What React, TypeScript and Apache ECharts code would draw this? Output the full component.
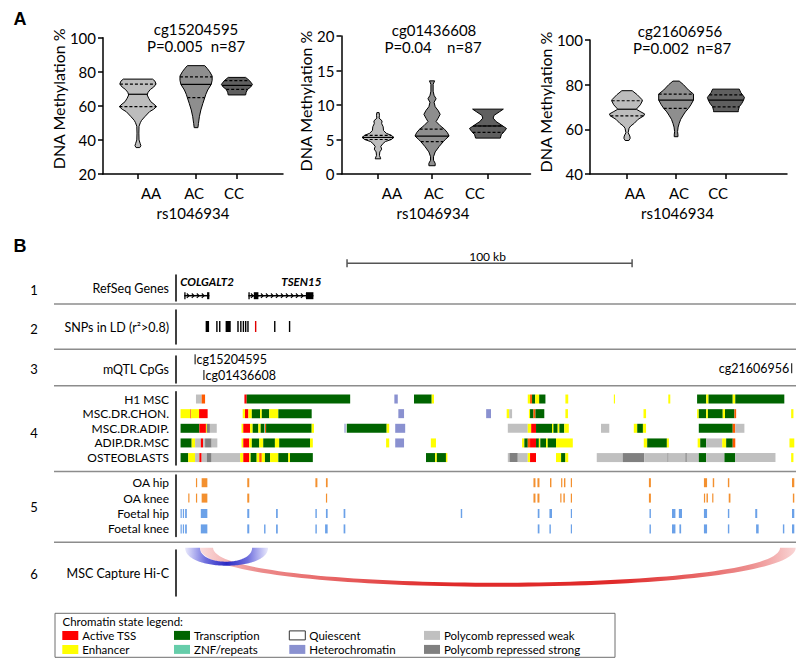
import React, { useEffect, useRef } from 'react';
import * as echarts from 'echarts';

// ================= Panel A data =================
const genotypes = ['AA', 'AC', 'CC'];
const cpgNames = ['cg15204595', 'cg01436608', 'cg21606956'];
const statLines = ['P=0.005  n=87', 'P=0.04    n=87', 'P=0.002  n=87'];
const snpId = 'rs1046934';
const yAxisName = 'DNA Methylation %';

// violin outlines: [methylation %, relative density], top to bottom
const cg152AA: number[][] = [[75.7, 0.79], [74.5, 0.92], [72.8, 0.98], [71, 0.85], [69.7, 0.68], [68, 0.55], [66.4, 0.5], [64.5, 0.58], [62.4, 0.7], [60.5, 0.92], [59.5, 1.0], [58, 0.85], [56.6, 0.63], [53.6, 0.37], [51.5, 0.2], [50.1, 0.13], [48, 0.06], [44, 0.05], [40, 0.06], [38, 0.12], [36.6, 0.16], [35.5, 0.1]];
const cg152AC: number[][] = [[83.6, 0.47], [82, 0.6], [80, 0.74], [77.5, 0.87], [75, 0.87], [72.6, 0.82], [69.3, 0.63], [66.8, 0.53], [64.8, 0.47], [61.5, 0.37], [57.6, 0.26], [53.6, 0.18], [49.7, 0.13], [47.2, 0.1]];
const cg152CC: number[][] = [[76.7, 0.47], [74.8, 0.68], [72.6, 0.84], [71, 0.74], [69.7, 0.58], [68, 0.5], [66.4, 0.47]];
const cg152Quart: number[][] = [[59.5, 66.8, 72.7], [64.8, 72.6, 77.0], [69.7, 72.0, 74.8]];

const cg014AA: number[][] = [[8.9, 0.06], [8.5, 0.08], [8.1, 0.06], [7.7, 0.22], [7.3, 0.2], [6.85, 0.28], [6.3, 0.3], [5.9, 0.45], [5.6, 0.72], [5.3, 0.86], [5.0, 0.72], [4.7, 0.4], [4.44, 0.28], [4.0, 0.15], [3.6, 0.2], [3.2, 0.1], [2.7, 0.08], [2.2, 0.15]];
const cg014AC: number[][] = [[13.5, 0.14], [13, 0.06], [12, 0.06], [11.4, 0.11], [10.9, 0.22], [10.4, 0.11], [9.75, 0.17], [9.2, 0.33], [8.65, 0.44], [8.1, 0.33], [7.6, 0.22], [7.0, 0.44], [6.5, 0.67], [6.0, 0.83], [5.5, 0.92], [5.0, 0.72], [4.7, 0.61], [4.0, 0.39], [3.2, 0.17], [2.5, 0.08], [2.0, 0.08], [1.55, 0.17], [1.2, 0.17]];
const cg014CC: number[][] = [[9.4, 0.83], [9.0, 0.61], [8.5, 0.33], [8.1, 0.28], [7.6, 0.44], [7.0, 0.78], [6.6, 1.0], [6.2, 0.89], [5.7, 0.72], [5.2, 0.67]];
const cg014Quart: number[][] = [[5.0, 5.3, 5.6], [4.7, 5.5, 6.5], [6.04, 6.96, 6.96]];

const cg216AA: number[][] = [[77.3, 0.28], [75.5, 0.55], [73.4, 0.8], [72.8, 0.83], [71, 0.72], [69, 0.5], [67.8, 0.75], [66.9, 0.95], [66, 0.9], [64.5, 0.6], [62.7, 0.39], [61.5, 0.2], [60.5, 0.11], [58.5, 0.06], [57, 0.15], [56, 0.17], [55, 0.1]];
const cg216AC: number[][] = [[81.6, 0.17], [80, 0.4], [77.6, 0.67], [75.8, 0.94], [73.1, 0.94], [71, 0.8], [69.4, 0.67], [67.8, 0.5], [66.4, 0.39], [64.5, 0.25], [62.7, 0.17], [61, 0.11], [59, 0.08], [57.5, 0.1], [56.7, 0.1]];
const cg216CC: number[][] = [[78, 0.72], [76.5, 0.8], [74.3, 1.0], [73, 0.95], [71.5, 0.85], [70.1, 0.72], [68.5, 0.67], [67.9, 0.67]];
const cg216Quart: number[][] = [[66.0, 69.0, 72.8], [69.4, 73.1, 75.8], [70.1, 73.1, 75.4]];

const yMins = [20, 0, 40];
const yMaxs = [100, 20, 100];
const yIntervals = [20, 5, 20];

// ================= Panel B data (positions in kb) =================
const geneNames = ['COLGALT2', 'TSEN15'];
const geneSpans: number[][] = [[2.9, 11.7], [25.4, 48.2]];
const geneExons: number[][][] = [[[2.9, 3.1], [10.9, 11.7]], [[25.4, 25.7], [27.3, 28.9], [45.6, 48.2]]];

const snpBlack: number[][] = [[10.4, 11.6], [14.1, 14.5], [15.1, 15.4], [17.4, 19.2], [21.5, 22.0], [22.5, 22.8], [23.4, 23.8], [24.2, 24.6], [25.0, 25.4], [34.4, 34.7], [39.6, 40.0]];
const snpLead: number[][] = [[27.7, 28.1]];

const mqtlNames = ['cg15204595', 'cg01436608', 'cg21606956'];
const mqtlPos = [6.7, 9.8, 216.0];

const scaleBarKb = [60, 160];
const scaleBarLabel = '100 kb';

const chromRows = ['H1 MSC', 'MSC.DR.CHON.', 'MSC.DR.ADIP.', 'ADIP.DR.MSC', 'OSTEOBLASTS'];
type Seg = [number, number, string];
const h1msc: Seg[] = [[7.0, 9.0, 'W'], [9.0, 10.2, 'F'], [24.0, 24.8, 'T'], [24.8, 61.1, 'X'], [76.6, 77.8, 'H'], [83.5, 89.7, 'X'], [89.7, 90.5, 'E'], [123.4, 124.2, 'E'], [124.2, 124.9, 'F'], [124.9, 126.0, 'X'], [126.0, 127.4, 'E'], [127.4, 129.6, 'X'], [136.6, 137.6, 'E'], [153.6, 154.0, 'E'], [172.7, 173.4, 'E'], [182.8, 186.0, 'X'], [186.0, 186.8, 'E'], [186.8, 195.3, 'X'], [195.3, 196.2, 'E'], [196.2, 213.4, 'X']];
const mscChon: Seg[] = [[1.6, 5.0, 'E'], [5.0, 5.3, 'F'], [5.3, 8.1, 'E'], [8.1, 11.1, 'T'], [23.4, 24.2, 'E'], [24.2, 25.4, 'T'], [25.4, 26.6, 'E'], [26.6, 29.5, 'X'], [29.5, 30.1, 'E'], [30.1, 32.7, 'X'], [32.7, 35.9, 'E'], [35.9, 47.6, 'X'], [78.0, 80.0, 'H'], [108.8, 110.5, 'H'], [116.0, 116.9, 'E'], [116.9, 117.9, 'W'], [123.8, 124.2, 'E'], [124.2, 125.4, 'X'], [125.4, 126.1, 'F'], [126.1, 129.2, 'X'], [136.6, 137.5, 'E'], [164.0, 164.9, 'E'], [182.8, 183.4, 'E'], [183.4, 186.0, 'X'], [186.0, 186.6, 'E'], [186.6, 191.8, 'X'], [191.8, 192.6, 'E'], [192.6, 195.9, 'X'], [195.9, 196.5, 'F'], [215.8, 216.6, 'E']];
const mscAdip: Seg[] = [[1.6, 8.2, 'X'], [8.2, 10.5, 'T'], [10.5, 10.8, 'E'], [10.8, 11.9, 'S'], [11.9, 14.3, 'W'], [23.0, 23.6, 'E'], [23.6, 26.0, 'T'], [26.0, 26.9, 'E'], [26.9, 28.9, 'X'], [28.9, 29.7, 'E'], [29.7, 30.9, 'X'], [30.9, 31.2, 'Z'], [31.2, 31.6, 'F'], [31.6, 47.6, 'X'], [47.6, 48.4, 'E'], [59.1, 59.5, 'H'], [59.9, 73.9, 'X'], [73.9, 74.8, 'E'], [76.9, 80.4, 'H'], [116.4, 123.4, 'W'], [123.4, 124.6, 'E'], [124.6, 126.3, 'T'], [126.3, 131.9, 'X'], [131.9, 132.4, 'E'], [132.4, 133.9, 'X'], [133.9, 134.5, 'E'], [134.5, 136.2, 'X'], [136.2, 137.8, 'E'], [149.1, 152.0, 'W'], [160.6, 161.8, 'E'], [161.8, 163.8, 'X'], [163.8, 164.9, 'E'], [183.4, 195.3, 'X'], [195.3, 196.2, 'F'], [196.2, 199.4, 'W']];
const adipMsc: Seg[] = [[1.6, 5.5, 'X'], [5.5, 6.7, 'E'], [6.7, 8.7, 'W'], [8.7, 9.5, 'T'], [9.5, 10.2, 'W'], [10.2, 12.5, 'S'], [12.5, 14.5, 'W'], [23.0, 23.6, 'E'], [23.6, 25.7, 'T'], [25.7, 26.6, 'E'], [26.6, 29.2, 'X'], [29.2, 30.6, 'E'], [30.6, 34.7, 'X'], [34.7, 36.2, 'E'], [36.2, 47.0, 'X'], [47.0, 48.0, 'E'], [73.7, 74.8, 'E'], [76.9, 80.0, 'H'], [89.4, 91.2, 'E'], [121.4, 122.2, 'E'], [122.2, 123.4, 'X'], [123.4, 124.2, 'F'], [124.2, 126.3, 'T'], [126.3, 127.3, 'X'], [127.3, 127.8, 'E'], [127.8, 129.8, 'X'], [129.8, 130.4, 'E'], [130.4, 133.3, 'X'], [133.3, 139.2, 'E'], [164.1, 165.3, 'E'], [165.3, 172.2, 'X'], [172.2, 172.9, 'E'], [183.0, 183.9, 'E'], [183.9, 186.0, 'X'], [186.0, 191.6, 'W'], [191.6, 193.0, 'E'], [193.0, 195.3, 'X'], [195.3, 196.2, 'F'], [215.2, 216.9, 'E']];
const osteo: Seg[] = [[1.6, 4.3, 'X'], [4.3, 6.7, 'E'], [6.7, 8.2, 'W'], [8.2, 9.0, 'T'], [9.0, 10.8, 'W'], [10.8, 12.5, 'S'], [12.5, 22.5, 'W'], [22.5, 23.6, 'E'], [23.6, 25.7, 'T'], [25.7, 26.2, 'E'], [26.2, 28.3, 'X'], [28.3, 29.2, 'E'], [29.2, 30.1, 'F'], [30.1, 31.2, 'E'], [31.2, 33.0, 'X'], [33.0, 35.9, 'E'], [35.9, 39.4, 'X'], [39.4, 40.0, 'E'], [40.0, 48.0, 'X'], [87.7, 90.9, 'X'], [90.9, 91.5, 'E'], [91.5, 94.7, 'X'], [94.7, 95.2, 'E'], [116.4, 117.0, 'W'], [117.0, 119.9, 'S'], [119.9, 123.4, 'W'], [123.4, 124.2, 'E'], [124.2, 126.3, 'T'], [133.3, 135.1, 'E'], [135.1, 136.6, 'X'], [136.6, 137.6, 'E'], [147.6, 156.7, 'W'], [156.7, 164.3, 'S'], [164.3, 172.4, 'W'], [172.4, 172.8, 'S'], [172.8, 178.7, 'W'], [178.7, 179.2, 'S'], [179.2, 183.4, 'W'], [183.4, 186.0, 'X'], [186.0, 192.4, 'W'], [192.4, 196.2, 'X'], [196.2, 210.3, 'W'], [215.8, 216.6, 'E']];
const chromSegsByRow: Seg[][] = [h1msc, mscChon, mscAdip, adipMsc, osteo];

const atacRows = ['OA hip', 'OA knee', 'Foetal hip', 'Foetal knee'];
const oaHip: number[][] = [[7.0, 7.3], [9.0, 11.0], [25.0, 25.7], [48.9, 49.6], [52.6, 53.2], [125.4, 126.1], [126.8, 127.5], [131.2, 131.7], [135.1, 135.4], [136.1, 136.6], [138.5, 138.9], [165.9, 166.6], [185.2, 186.3], [188.3, 188.8], [193.6, 194.1], [216.1, 216.9]];
const oaKnee: number[][] = [[4.3, 4.6], [7.0, 7.3], [9.0, 11.0], [25.0, 25.7], [52.6, 52.9], [125.4, 126.1], [126.8, 127.5], [134.8, 135.2], [135.9, 136.4], [138.5, 138.9], [165.9, 166.6], [185.2, 185.6], [186.1, 186.6], [188.1, 188.5], [193.9, 194.5], [216.4, 216.9]];
const foetalHip: number[][] = [[1.6, 1.9], [2.4, 2.6], [3.2, 3.8], [8.7, 11.0], [25.0, 25.7], [35.1, 35.7], [48.9, 49.4], [52.6, 53.2], [58.8, 59.4], [99.9, 100.4], [126.9, 127.5], [131.0, 131.9], [138.5, 138.9], [166.1, 166.6], [174.0, 175.2], [176.4, 177.5], [185.2, 186.3], [193.6, 194.1], [203.2, 203.9], [216.1, 216.9]];
const foetalKnee: number[][] = [[1.6, 1.9], [2.4, 2.6], [3.2, 3.8], [8.7, 11.0], [25.0, 25.7], [30.9, 31.4], [35.1, 35.7], [48.9, 49.4], [52.3, 53.2], [58.8, 59.4], [126.9, 127.5], [131.0, 131.5], [138.5, 138.9], [166.1, 166.6], [174.0, 175.2], [176.6, 177.2], [185.2, 186.3], [193.6, 194.1], [203.5, 204.4], [212.9, 213.4], [216.1, 216.9]];
const atacPeaksByRow: number[][][] = [oaHip, oaKnee, foetalHip, foetalKnee];

const hicRow = ['MSC Capture Hi-C'];
// [anchor1 start, anchor1 end, anchor2 start, anchor2 end]
const hicRed: number[] = [8.4, 13.0, 211.9, 217.4];
const hicBlue: number[] = [3.2, 8.4, 26.7, 32.3];

const legendTitle = 'Chromatin state legend:';
const legendNames = ['Active TSS', 'Enhancer', 'Transcription', 'ZNF/repeats', 'Quiescent', 'Heterochromatin', 'Polycomb repressed weak', 'Polycomb repressed strong'];
const legendCodes = ['T', 'E', 'X', 'Z', 'Q', 'H', 'W', 'S'];

const trackNumbers = ['1', '2', '3', '4', '5', '6'];

// ================= styles / layout =================
const FONT = 'Lato, "Open Sans", sans-serif';
const stateColors: Record<string, string> = {
  T: '#ff0000', F: '#ff5a00', E: '#ffff00', X: '#006400', Z: '#66cdaa',
  Q: '#ffffff', H: '#8a91d0', W: '#c0c0c0', S: '#808080',
};
const violinFills = ['#bdbdbd', '#8e8e8e', '#5f5f5f'];
const KB_MAX = 217.5;

const plotLayout = [
  { grid: { left: 103, top: 37.7, width: 180, height: 136.3 }, violinX: [19.4, 51.7, 74.4], labelX: [26.7, 50.6, 72.8], titleX: [196, 196], titleY: [29, 46], nameGap: 32, namePadL: 14, xNamePad: [0, 0, 0, 0] },
  { grid: { left: 341.5, top: 36, width: 189, height: 138 }, violinX: [19.3, 47.9, 77.5], labelX: [26.7, 48.9, 70.6], titleX: [434, 433], titleY: [30, 47], nameGap: 21.5, namePadL: 8, xNamePad: [0, 6, 0, 0] },
  { grid: { left: 590, top: 40, width: 197, height: 134 }, violinX: [18.8, 43.7, 69.0], labelX: [22.8, 45.2, 65.0], titleX: [680, 682], titleY: [31, 48], nameGap: 30, namePadL: 10, xNamePad: [0, 22, 0, 0] },
];
const violinProfiles = [[cg152AA, cg152AC, cg152CC], [cg014AA, cg014AC, cg014CC], [cg216AA, cg216AC, cg216CC]];
const violinQuarts = [cg152Quart, cg014Quart, cg216Quart];

function interpDens(prof: number[][], v: number): number {
  for (let k = 0; k < prof.length - 1; k++) {
    const a = prof[k], b = prof[k + 1];
    if (v <= a[0] && v >= b[0]) {
      const t = a[0] === b[0] ? 0 : (a[0] - v) / (a[0] - b[0]);
      return a[1] + t * (b[1] - a[1]);
    }
  }
  return 0;
}

function makeViolinRender(p: number) {
  const maxHalf = 18.5;
  return (params: any, api: any) => {
    const i = params.dataIndex;
    const xPos = api.value(0);
    const prof = violinProfiles[p][i];
    const right = prof.map(([v, d]) => { const c = api.coord([xPos, v]); return [c[0] + d * maxHalf, c[1]]; });
    const left = prof.slice().reverse().map(([v, d]) => { const c = api.coord([xPos, v]); return [c[0] - d * maxHalf, c[1]]; });
    const children: any[] = [{
      type: 'polygon', shape: { points: right.concat(left) },
      style: { fill: violinFills[i], stroke: '#000', lineWidth: 1 },
    }];
    violinQuarts[p][i].forEach((q, k) => {
      const d = interpDens(prof, q) * maxHalf;
      const c = api.coord([xPos, q]);
      const st: any = { stroke: '#000', lineWidth: 1.2 };
      if (k !== 1) st.lineDash = [3, 2];
      children.push({ type: 'line', shape: { x1: c[0] - d, y1: c[1], x2: c[0] + d, y2: c[1] }, style: st });
    });
    return { type: 'group', children };
  };
}

const trackGrids = [
  { left: 176, top: 275, width: 620, height: 26 },    // genes
  { left: 176, top: 310, width: 620, height: 34 },    // SNPs
  { left: 176, top: 356, width: 620, height: 27 },    // mQTL
  { left: 176, top: 391.7, width: 620, height: 73.2 }, // chromatin
  { left: 176, top: 475, width: 620, height: 61.6 },  // ATAC
  { left: 176, top: 550, width: 620, height: 46 },    // Hi-C
];
const trackLabels = [['RefSeq Genes'], ['SNPs in LD (r²>0.8)'], ['mQTL CpGs'], chromRows, atacRows, hicRow];
const trackLabelPad = [[10, 0, 0, 0], [4, 0, 0, 0], [0, 0, 0, 0], [0, 0, 0, 0], [0, 0, 0, 0], [0, 0, 26, 0]];
const trackLabelSize = [12.5, 12.5, 12.5, 12, 12, 12.5];

function txt(x: number, y: number, text: string, font: string, align = 'center', lineHeight?: number) {
  const style: any = { text, x: 0, y: 0, font, fill: '#000', align, textAlign: align, verticalAlign: 'middle', textVerticalAlign: 'middle' };
  if (lineHeight) style.lineHeight = lineHeight;
  return { type: 'text', x, y, silent: true, style };
}

export default function App() {
  const ref = useRef<HTMLDivElement>(null);
  useEffect(() => {
    if (!ref.current) return;
    const chart = echarts.init(ref.current, null, { renderer: 'svg' });

    const grid: any[] = [];
    const xAxis: any[] = [];
    const yAxis: any[] = [];
    const series: any[] = [];
    const axisLineStyle = { color: '#000', width: 1.5 };

    plotLayout.forEach((pl, p) => {
      grid.push(pl.grid);
      xAxis.push({
        type: 'value', gridIndex: p, min: 0, max: 100,
        axisLine: { show: true, lineStyle: axisLineStyle, onZero: false },
        axisTick: { show: true, length: 5, lineStyle: axisLineStyle, customValues: pl.violinX },
        axisLabel: {
          customValues: pl.labelX, color: '#000', fontSize: 15, fontFamily: FONT, margin: 11,
          formatter: (v: number) => { const k = pl.labelX.findIndex((x) => Math.abs(x - v) < 0.01); return k >= 0 ? genotypes[k] : ''; },
        },
        splitLine: { show: false },
        name: snpId, nameLocation: 'middle', nameGap: 31,
        nameTextStyle: { color: '#000', fontSize: 15, fontFamily: FONT, padding: pl.xNamePad },
      });
      yAxis.push({
        type: 'value', gridIndex: p, min: yMins[p], max: yMaxs[p], interval: yIntervals[p],
        axisLine: { show: true, lineStyle: axisLineStyle, onZero: false },
        axisTick: { show: true, length: 5, lineStyle: axisLineStyle },
        axisLabel: { color: '#000', fontSize: 15, fontFamily: FONT, margin: 7 },
        splitLine: { show: false },
        name: yAxisName, nameLocation: 'middle', nameGap: pl.nameGap, nameRotate: 90,
        nameTextStyle: { color: '#000', fontSize: 16, fontFamily: FONT, padding: [0, 0, 0, pl.namePadL] },
      });
      series.push({
        type: 'custom', xAxisIndex: p, yAxisIndex: p, silent: true,
        encode: { x: 0, y: 1 },
        data: pl.violinX.map((x, i) => [x, violinQuarts[p][i][1]]),
        renderItem: makeViolinRender(p),
      });
    });

    trackGrids.forEach((g, t) => {
      const gi = 3 + t;
      grid.push(g);
      xAxis.push({ type: 'value', gridIndex: gi, min: 0, max: KB_MAX, show: false });
      yAxis.push({
        type: 'category', gridIndex: gi, data: trackLabels[t], inverse: true,
        axisLine: { show: true, lineStyle: axisLineStyle },
        axisTick: { show: false },
        axisLabel: { interval: 0, color: '#000', fontSize: trackLabelSize[t], lineHeight: 13, fontFamily: FONT, margin: 7, padding: trackLabelPad[t] },
        splitLine: { show: false },
      });
    });

    // scale bar
    series.push({
      type: 'custom', xAxisIndex: 3, yAxisIndex: 3, silent: true, encode: { x: [0, 1], y: 2 },
      data: [[scaleBarKb[0], scaleBarKb[1], 0]],
      renderItem: (params: any, api: any) => {
        const a = api.coord([api.value(0), 0])[0];
        const b = api.coord([api.value(1), 0])[0];
        const y = params.coordSys.y - 11.7;
        const st = { stroke: '#555', lineWidth: 1.5 };
        return {
          type: 'group', children: [
            { type: 'line', shape: { x1: a, y1: y, x2: b, y2: y }, style: st },
            { type: 'line', shape: { x1: a, y1: y - 4, x2: a, y2: y + 4 }, style: st },
            { type: 'line', shape: { x1: b, y1: y - 4, x2: b, y2: y + 4 }, style: st },
            { type: 'text', x: (a + b) / 2 - 2, y: y - 7, style: { text: scaleBarLabel, font: `12px ${FONT}`, fill: '#000', align: 'center', verticalAlign: 'middle' } },
          ],
        };
      },
    });

    // genes
    series.push({
      type: 'custom', xAxisIndex: 3, yAxisIndex: 3, silent: true, encode: { x: [0, 1], y: 2 },
      data: geneSpans.map((s) => [s[0], s[1], 0]),
      renderItem: (params: any, api: any) => {
        const i = params.dataIndex;
        const sx = api.coord([api.value(0), 0])[0];
        const ex = api.coord([api.value(1), 0])[0];
        const y = params.coordSys.y + 20.7;
        const children: any[] = [
          { type: 'line', shape: { x1: sx, y1: y, x2: ex, y2: y }, style: { stroke: '#000', lineWidth: 1.5 } },
        ];
        for (let x = sx + 4; x < ex - 3; x += 5) {
          children.push({ type: 'polyline', shape: { points: [[x - 1.5, y - 2.2], [x + 0.8, y], [x - 1.5, y + 2.2]] }, style: { stroke: '#000', lineWidth: 1.1, fill: null } });
        }
        geneExons[i].forEach((e) => {
          const a = api.coord([e[0], 0])[0];
          const b = api.coord([e[1], 0])[0];
          children.push({ type: 'rect', shape: { x: a, y: y - 3.5, width: Math.max(b - a, 1.3), height: 7 }, style: { fill: '#000' } });
        });
        const leftAnchor = i === 0;
        children.push({
          type: 'text', x: leftAnchor ? sx - 4 : ex + 8, y: params.coordSys.y + 6.7,
          style: { text: geneNames[i], font: `italic bold 11.5px ${FONT}`, fill: '#000', align: leftAnchor ? 'left' : 'right', verticalAlign: 'middle' },
        });
        return { type: 'group', children };
      },
    });

    // SNPs in LD
    const snpAll = snpBlack.map((s) => ({ s, c: '#000' })).concat(snpLead.map((s) => ({ s, c: '#e00000' })));
    series.push({
      type: 'custom', xAxisIndex: 4, yAxisIndex: 4, silent: true, encode: { x: [0, 1], y: 2 },
      data: snpAll.map((d) => [d.s[0], d.s[1], 0]),
      renderItem: (params: any, api: any) => {
        const a = api.coord([api.value(0), 0]);
        const b = api.coord([api.value(1), 0]);
        return { type: 'rect', shape: { x: a[0], y: a[1] - 6, width: Math.max(b[0] - a[0], 1.4), height: 11 }, style: { fill: snpAll[params.dataIndex].c } };
      },
    });

    // mQTL CpGs
    const mqtlLane = [0, 1, 0.57];
    series.push({
      type: 'custom', xAxisIndex: 5, yAxisIndex: 5, silent: true, encode: { x: 0, y: 1 },
      data: mqtlPos.map((p) => [p, 0]),
      renderItem: (params: any, api: any) => {
        const i = params.dataIndex;
        const x = api.coord([api.value(0), 0])[0];
        const y = params.coordSys.y + 3.3 + mqtlLane[i] * 15.7;
        const rightSide = x < params.coordSys.x + params.coordSys.width / 2;
        return {
          type: 'group', children: [
            { type: 'line', shape: { x1: x, y1: y - 5, x2: x, y2: y + 5 }, style: { stroke: '#000', lineWidth: 1 } },
            { type: 'text', x: rightSide ? x + 1.5 : x - 2.5, y, style: { text: mqtlNames[i], font: `12.5px ${FONT}`, fill: '#000', align: rightSide ? 'left' : 'right', verticalAlign: 'middle', lineHeight: 13 } },
          ],
        };
      },
    });

    // chromatin states
    const chromData: any[] = [];
    const chromColor: string[] = [];
    chromSegsByRow.forEach((segs, r) => segs.forEach((s) => { chromData.push([s[0], s[1], r]); chromColor.push(stateColors[s[2]]); }));
    series.push({
      type: 'custom', xAxisIndex: 6, yAxisIndex: 6, silent: true, encode: { x: [0, 1], y: 2 },
      data: chromData,
      renderItem: (params: any, api: any) => {
        const a = api.coord([api.value(0), api.value(2)]);
        const b = api.coord([api.value(1), api.value(2)]);
        return { type: 'rect', shape: { x: a[0], y: a[1] - 4.5, width: Math.max(b[0] - a[0], 1), height: 9 }, style: { fill: chromColor[params.dataIndex] } };
      },
    });

    // ATAC peaks
    const atacData: any[] = [];
    atacPeaksByRow.forEach((pk, r) => pk.forEach((s) => atacData.push([s[0], s[1], r])));
    series.push({
      type: 'custom', xAxisIndex: 7, yAxisIndex: 7, silent: true, encode: { x: [0, 1], y: 2 },
      data: atacData,
      renderItem: (params: any, api: any) => {
        const r = api.value(2);
        const a = api.coord([api.value(0), r]);
        const b = api.coord([api.value(1), r]);
        const fill = r < 2 ? '#f28a24' : '#5b97e6';
        return { type: 'rect', shape: { x: a[0], y: a[1] - 4.5, width: Math.max(b[0] - a[0], 1.2), height: 9 }, style: { fill, opacity: r < 2 ? 0.95 : 0.9 } };
      },
    });

    // Hi-C arcs
    const hicLinks = [hicRed, hicBlue];
    const hicGrad = [
      new echarts.graphic.LinearGradient(0, 0, 1, 0, [
        { offset: 0, color: 'rgba(236,120,120,0.25)' }, { offset: 0.1, color: '#ec8c8c' },
        { offset: 0.4, color: '#e02a2a' }, { offset: 0.7, color: '#e02a2a' },
        { offset: 0.92, color: '#ec8c8c' }, { offset: 1, color: 'rgba(236,120,120,0.3)' },
      ]),
      new echarts.graphic.LinearGradient(0, 0, 1, 0, [
        { offset: 0, color: 'rgba(110,110,230,0.15)' }, { offset: 0.25, color: '#6d6ddc' },
        { offset: 0.5, color: '#2a2ac4' }, { offset: 0.75, color: '#6d6ddc' },
        { offset: 1, color: 'rgba(110,110,230,0.15)' },
      ]),
    ];
    series.push({
      type: 'custom', xAxisIndex: 8, yAxisIndex: 8, silent: true, encode: { x: [0, 1, 2, 3], y: 4 },
      data: hicLinks.map((l) => [l[0], l[1], l[2], l[3], 0]),
      renderItem: (params: any, api: any) => {
        const xa1 = api.coord([api.value(0), 0])[0];
        const xa2 = api.coord([api.value(1), 0])[0];
        const xb1 = api.coord([api.value(2), 0])[0];
        const xb2 = api.coord([api.value(3), 0])[0];
        const top = params.coordSys.y - 2.3;
        const D = 14.6 + 0.041 * (xb2 - xa1);
        const Din = D - 4;
        const bez = (x0: number, x1: number, d: number, t: number) => {
          const c = (4 / 3) * d;
          const mt = 1 - t;
          const x = mt * mt * mt * x0 + 3 * mt * mt * t * x0 + 3 * mt * t * t * x1 + t * t * t * x1;
          const y = top + 3 * mt * mt * t * c + 3 * mt * t * t * c;
          return [x, y];
        };
        const pts: number[][] = [];
        for (let k = 0; k <= 80; k++) pts.push(bez(xa1, xb2, D, k / 80));
        for (let k = 80; k >= 0; k--) pts.push(bez(xa2, xb1, Din, k / 80));
        return { type: 'polygon', shape: { points: pts }, style: { fill: hicGrad[params.dataIndex] } };
      },
    });

    // ---------- graphic: labels, separators, legend ----------
    const graphic: any[] = [];
    graphic.push(txt(20, 19, 'A', `bold 18px "Liberation Sans", Arial, sans-serif`));
    graphic.push(txt(20, 246, 'B', `bold 18px "Liberation Sans", Arial, sans-serif`));
    plotLayout.forEach((pl, p) => {
      graphic.push(txt(pl.titleX[0], pl.titleY[0], cpgNames[p], `15px ${FONT}`, 'center', 15));
      graphic.push(txt(pl.titleX[1], pl.titleY[1], statLines[p], `15px ${FONT}`, 'center', 15));
    });
    [304, 349.3, 385.8, 471.5, 542.3].forEach((y) => {
      graphic.push({ type: 'line', silent: true, shape: { x1: 54, y1: y, x2: 796, y2: y }, style: { stroke: '#8c8c8c', lineWidth: 1.5 } });
    });
    const numY = [290, 329, 369, 433, 507, 574];
    trackNumbers.forEach((n, i) => graphic.push(txt(34, numY[i], n, `13px ${FONT}`)));

    graphic.push({ type: 'rect', silent: true, shape: { x: 55, y: 613.3, width: 560, height: 44 }, style: { fill: 'none', stroke: '#6e6e6e', lineWidth: 1 } });
    graphic.push(txt(62.5, 621.3, legendTitle, `11.5px ${FONT}`, 'left', 12));
    const colX = [62.3, 174, 289.3, 424];
    const rowY = [635.4, 649.4];
    legendNames.forEach((name, i) => {
      const cx = colX[Math.floor(i / 2)];
      const cy = rowY[i % 2];
      const code = legendCodes[i];
      graphic.push({ type: 'rect', silent: true, shape: { x: cx, y: cy - 4.5, width: 16, height: 9 }, style: { fill: stateColors[code], stroke: code === 'Q' ? '#333' : null, lineWidth: 1 } });
      graphic.push(txt(cx + 20, cy, name, `11.5px ${FONT}`, 'left', 12));
    });

    chart.setOption({
      animation: false,
      backgroundColor: '#fff',
      grid, xAxis, yAxis, series, graphic,
    });
    return () => chart.dispose();
  }, []);
  return <div ref={ref} style={{ position: 'absolute', left: 0, top: 0, width: 796, height: 659 }} />;
}
